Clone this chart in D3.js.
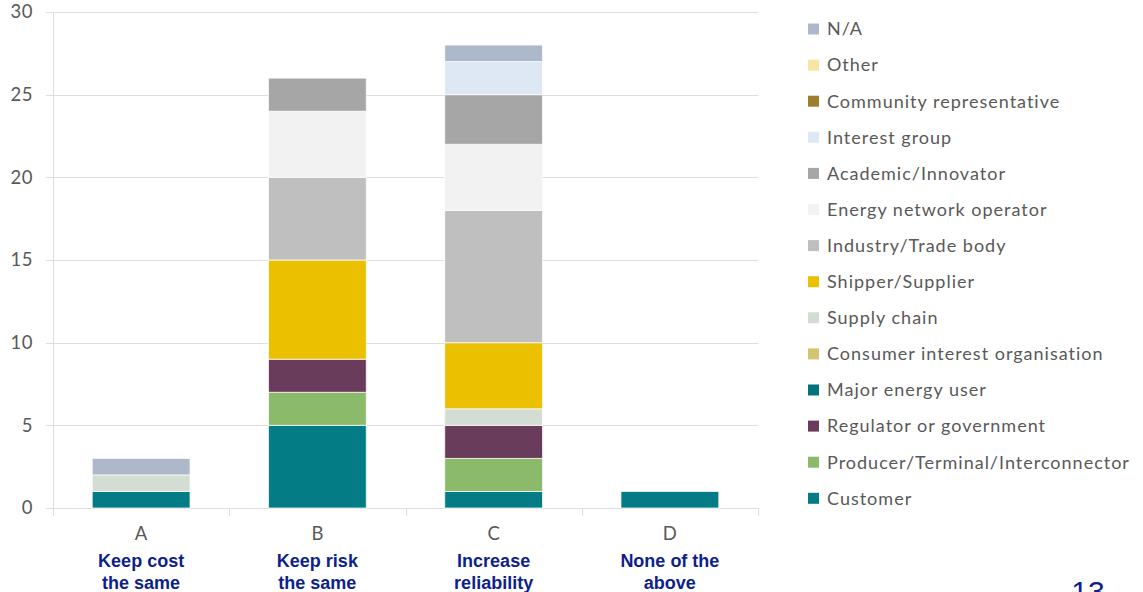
<!DOCTYPE html>
<html>
<head>
<meta charset="utf-8">
<script src="https://cdn.jsdelivr.net/npm/d3@7"></script>
<style>
  html, body { margin: 0; padding: 0; background: #ffffff; }
  svg { display: block; }
</style>
</head>
<body>
<svg id="chart" width="1143" height="592"></svg>
<script>
// Answer options along the x axis
const categories = ["A", "B", "C", "D"];
const categoryNames = [["Keep cost", "the same"], ["Keep risk", "the same"], ["Increase", "reliability"], ["None of the", "above"]];

// Respondent types, stacked bottom to top
const seriesNames = [
  "Customer",
  "Producer/Terminal/Interconnector",
  "Regulator or government",
  "Major energy user",
  "Consumer interest organisation",
  "Supply chain",
  "Shipper/Supplier",
  "Industry/Trade body",
  "Energy network operator",
  "Academic/Innovator",
  "Interest group",
  "Community representative",
  "Other",
  "N/A"
];
const seriesColors = [
  "#037c86", "#8cba6b", "#683c5a", "#03727b", "#d4c470", "#d3ddd4", "#ebc000",
  "#bfbfbf", "#f2f2f2", "#a6a6a6", "#dde8f4", "#9c7f2e", "#f7e6a3", "#adb8ca"
];

// Counts per category (A, B, C, D) for each respondent type
const customer        = [1, 5, 1, 1];
const producer        = [0, 2, 2, 0];
const regulator       = [0, 2, 2, 0];
const majorUser       = [0, 0, 0, 0];
const consumerOrg     = [0, 0, 0, 0];
const supplyChain     = [1, 0, 1, 0];
const shipper         = [0, 6, 4, 0];
const industry        = [0, 5, 8, 0];
const networkOperator = [0, 4, 4, 0];
const academic        = [0, 2, 3, 0];
const interestGroup   = [0, 0, 2, 0];
const community       = [0, 0, 0, 0];
const other           = [0, 0, 0, 0];
const notAnswered     = [1, 0, 1, 0];

const seriesValues = [customer, producer, regulator, majorUser, consumerOrg, supplyChain,
  shipper, industry, networkOperator, academic, interestGroup, community, other, notAnswered];

const yTicks = [0, 5, 10, 15, 20, 25, 30];

const table = categories.map((c, i) => {
  const row = { category: c };
  seriesNames.forEach((s, j) => { row[s] = seriesValues[j][i]; });
  return row;
});

const svg = d3.select("#chart");
const margin = { left: 53, right: 385, top: 12, bottom: 84 };
const W = 1143, H = 592;

const x = d3.scaleBand().domain(categories)
  .range([margin.left, W - margin.right]).paddingInner(0.445).paddingOuter(0.2225);
const xBoundary = d3.scaleLinear().domain([0, categories.length]).range([margin.left, W - margin.right]);
const y = d3.scaleLinear().domain([0, 30]).range([H - margin.bottom, margin.top]);

const fontUI = "Lato, 'Open Sans', sans-serif";
const textGray = "#595959";
const gridColor = "#dedede";

// Horizontal gridlines with small left ticks
svg.append("g").selectAll("line").data(yTicks).join("line")
  .attr("x1", margin.left - 7).attr("x2", W - margin.right)
  .attr("y1", d => Math.round(y(d)) + 0.5).attr("y2", d => Math.round(y(d)) + 0.5)
  .attr("stroke", gridColor).attr("stroke-width", 1);

// Vertical axis line
svg.append("line")
  .attr("x1", margin.left + 0.5).attr("x2", margin.left + 0.5)
  .attr("y1", y(30)).attr("y2", y(0) + 8)
  .attr("stroke", gridColor).attr("stroke-width", 1);

// Category boundary ticks below the baseline
svg.append("g").selectAll("line").data(d3.range(1, categories.length + 1)).join("line")
  .attr("x1", d => Math.round(xBoundary(d)) + 0.5).attr("x2", d => Math.round(xBoundary(d)) + 0.5)
  .attr("y1", y(0)).attr("y2", y(0) + 8)
  .attr("stroke", gridColor).attr("stroke-width", 1);

// Y tick labels
svg.append("g").selectAll("text").data(yTicks).join("text")
  .attr("x", 33).attr("y", d => y(d)).attr("dy", "0.35em")
  .attr("text-anchor", "end")
  .attr("font-family", fontUI).attr("font-size", 18.5).attr("letter-spacing", 0.5).attr("fill", textGray)
  .text(d => d);

// Stacked bars
const stack = d3.stack().keys(seriesNames);
const layers = stack(table);
const color = d3.scaleOrdinal().domain(seriesNames).range(seriesColors);

svg.append("g").selectAll("g").data(layers).join("g")
  .attr("fill", d => color(d.key))
  .selectAll("rect").data(d => d.filter(p => p[1] > p[0])).join("rect")
  .attr("x", d => x(d.data.category))
  .attr("width", x.bandwidth())
  .attr("y", d => y(d[1]))
  .attr("height", d => y(d[0]) - y(d[1]))
  .attr("stroke", "rgba(255,255,255,0.75)").attr("stroke-width", 1);

// Category letters
svg.append("g").selectAll("text").data(categories).join("text")
  .attr("x", d => x(d) + x.bandwidth() / 2).attr("y", 540)
  .attr("text-anchor", "middle")
  .attr("font-family", fontUI).attr("font-size", 18.5).attr("fill", textGray)
  .text(d => d);

// Option descriptions
const desc = svg.append("g").selectAll("text").data(categories).join("text")
  .attr("x", d => x(d) + x.bandwidth() / 2)
  .attr("text-anchor", "middle")
  .attr("font-family", "'Liberation Sans', Arial, sans-serif").attr("font-weight", "bold")
  .attr("font-size", 18).attr("fill", "#0d1f8c");
desc.each(function(d, i) {
  const t = d3.select(this);
  categoryNames[i].forEach((line, k) => {
    t.append("tspan").attr("x", x(d) + x.bandwidth() / 2).attr("y", 567 + k * 22).text(line);
  });
});

// Legend, listed top of stack first
const legendItems = seriesNames.slice().reverse();
const legend = svg.append("g").selectAll("g").data(legendItems).join("g")
  .attr("transform", (d, i) => `translate(808, ${29 + i * 36.1})`);
legend.append("rect")
  .attr("x", 0).attr("y", -5.5).attr("width", 11).attr("height", 11)
  .attr("fill", d => color(d));
legend.append("text")
  .attr("x", 19).attr("y", 0).attr("dy", "0.35em")
  .attr("font-family", fontUI).attr("font-size", 18).attr("letter-spacing", 1)
  .attr("fill", textGray)
  .text(d => d);

// Slide number
svg.append("text")
  .attr("x", 1088).attr("y", 602).attr("text-anchor", "middle")
  .attr("font-family", "'Liberation Sans', Arial, sans-serif")
  .attr("font-size", 30).attr("fill", "#0d1f8c")
  .text("13");
</script>
</body>
</html>
